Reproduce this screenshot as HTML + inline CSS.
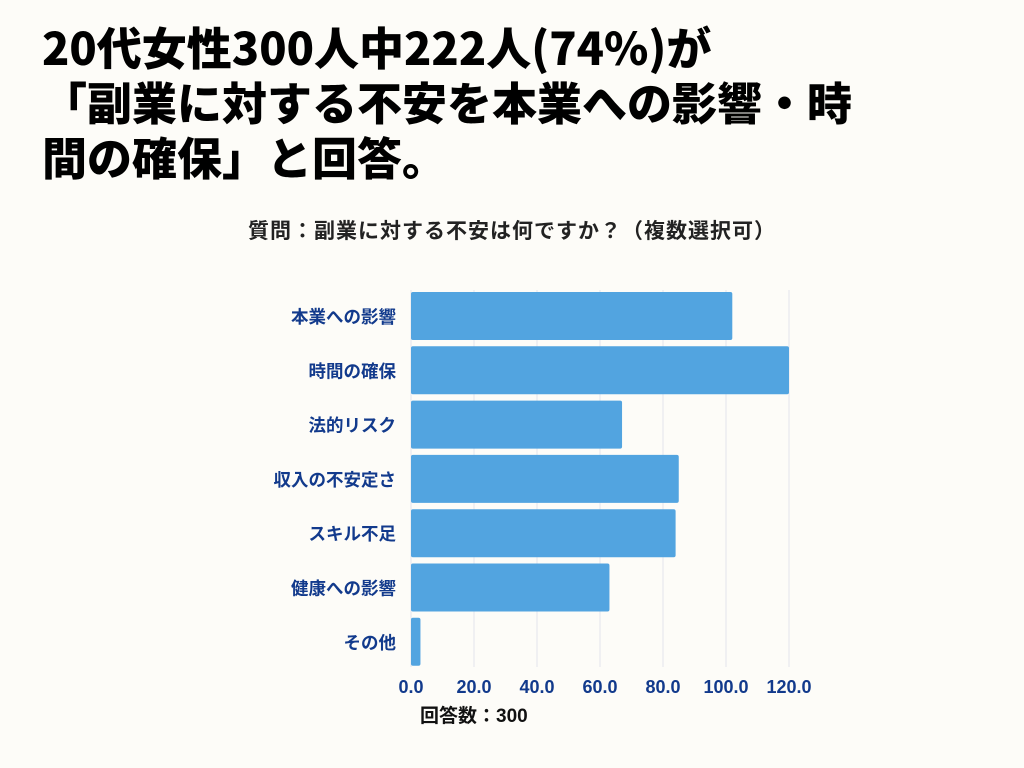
<!DOCTYPE html>
<html><head><meta charset="utf-8"><style>
body{margin:0;width:1024px;height:768px;background:#fdfcf8;font-family:"Liberation Sans","Noto Sans CJK JP",sans-serif;overflow:hidden;position:relative}
#title{position:absolute;left:42px;top:18px;width:1000px;font-family:"Noto Sans CJK JP","Liberation Sans",sans-serif;font-size:45px;font-weight:900;line-height:55px;color:#000;margin:0;letter-spacing:0px;white-space:nowrap}
#sub{position:absolute;left:0;width:1024px;top:215px;text-align:center;font-size:21px;font-weight:bold;color:#222;letter-spacing:1px}
svg{position:absolute;left:0;top:0}
</style></head><body>
<h1 id="title">20代女性300人中222人(74%)が<br>「副業に対する不安を本業への影響・時<br>間の確保」と回答。</h1>
<div id="sub">質問：副業に対する不安は何ですか？（複数選択可）</div>
<svg id="chart" width="1024" height="768"></svg>
<script>
const categories=["本業への影響","時間の確保","法的リスク","収入の不安定さ","スキル不足","健康への影響","その他"];
const values=[102,120,67,85,84,63,3];
const ticks=[0,20,40,60,80,100,120];
const tickLabels=["0.0","20.0","40.0","60.0","80.0","100.0","120.0"];
const NS="http://www.w3.org/2000/svg";
const svg=document.getElementById('chart');
const x0=411,x1=789,top0=289,rowH=54.3;
const xs=v=>x0+(v/120)*(x1-x0);
function mk(t,a){const e=document.createElementNS(NS,t);for(const k in a)e.setAttribute(k,a[k]);svg.appendChild(e);return e;}
ticks.forEach((t,i)=>{
 const g=mk('line',{x1:xs(t),x2:xs(t),y1:290,y2:667,stroke:'#e2e5ec','stroke-width':1});
 
 
 const tx=mk('text',{x:xs(t),y:693,'text-anchor':'middle','font-size':18,'font-weight':'bold',fill:'#123a8c'});
 tx.textContent=tickLabels[i];
 
 
});
categories.forEach((c,i)=>{
 const y=top0+i*rowH+3;
 const b=mk('rect',{x:x0,y:y,width:xs(values[i])-x0,height:48,rx:2,fill:'#52a4e0'});
 
 
 const l=mk('text',{x:396,y:y+31,'text-anchor':'end','font-size':17.5,'font-weight':'bold',fill:'#123a8c'});
 l.textContent=c;
 
 
});
const n=mk('text',{x:420,y:722,'font-size':19,'font-weight':'bold',fill:'#111'});
n.textContent='回答数：300';


</script>
</body></html>
